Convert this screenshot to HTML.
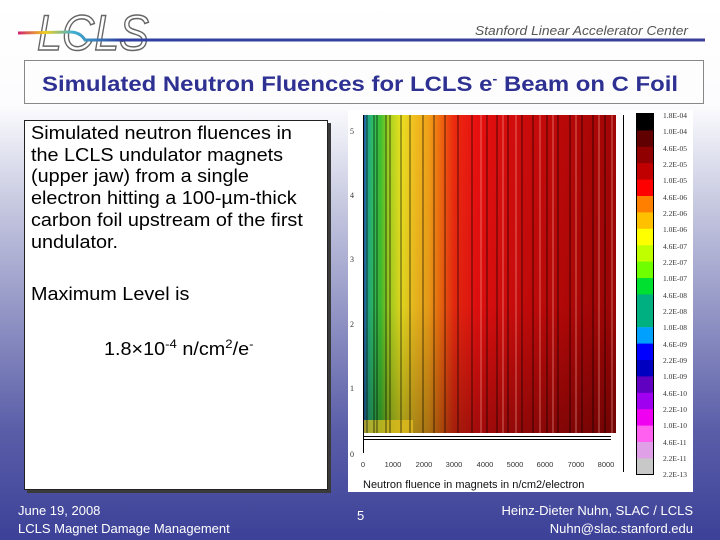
<!DOCTYPE html>
<html><head><meta charset="utf-8"><style>
body{margin:0;width:720px;height:540px;overflow:hidden;font-family:"Liberation Sans",sans-serif;}
#bg{position:absolute;left:0;top:0;width:720px;height:540px;background:linear-gradient(to bottom,#fff 0px,#fcfcfe 105px,#c9cbe2 200px,#8a8dc0 330px,#5a5ea8 430px,#3c4198 540px);}
.abs{position:absolute;}
.sx{transform:scaleX(1.1);transform-origin:0 0;}
</style></head><body>
<div id="bg"></div>
<svg class="abs" style="left:0;top:0" width="720" height="110">
<defs><linearGradient id="ln" x1="0" x2="1"><stop offset="0" stop-color="#d02070"/><stop offset="0.04" stop-color="#f0d020"/><stop offset="0.08" stop-color="#40b0d0"/><stop offset="0.15" stop-color="#3040a0"/><stop offset="1" stop-color="#3a3f98"/></linearGradient></defs>
<text x="37" y="50" font-family="Liberation Sans" font-style="italic" font-size="50" fill="#fff" stroke="#666" stroke-width="1.5" textLength="112" lengthAdjust="spacingAndGlyphs">LCLS</text>
<path d="M18,33 L70,32 Q80,32 85,40 L705,40" stroke="url(#ln)" stroke-width="3" fill="none"/>
<text x="688" y="35" text-anchor="end" font-family="Liberation Sans" font-style="italic" font-size="13" fill="#555" textLength="213" lengthAdjust="spacingAndGlyphs">Stanford Linear Accelerator Center</text>
<rect x="24.5" y="60.5" width="679" height="43" fill="#fdfdfd" stroke="#888" stroke-width="1"/>
<text x="42" y="91" font-family="Liberation Sans" font-weight="bold" font-size="21" fill="#2e3192" textLength="636" lengthAdjust="spacingAndGlyphs">Simulated Neutron Fluences for LCLS e<tspan font-size="13" dy="-8">-</tspan><tspan dy="8"> Beam on C Foil</tspan></text>
</svg>
<div class="abs" style="left:27px;top:123px;width:304px;height:370px;background:#3a3a3a;"></div>
<div class="abs" style="left:24px;top:120px;width:304px;height:370px;background:#fff;border:1px solid #222;box-sizing:border-box;"></div>
<div class="abs sx" style="left:31px;top:123px;width:270px;font-size:18px;line-height:21.7px;color:#000;white-space:nowrap;">Simulated neutron fluences in<br>the LCLS undulator magnets<br>(upper jaw) from a single<br>electron hitting a 100-µm-thick<br>carbon foil upstream of the first<br>undulator.</div>
<div class="abs sx" style="left:31px;top:284px;font-size:18px;color:#000;white-space:nowrap;">Maximum Level is</div>
<div class="abs sx" style="left:104px;top:337px;font-size:18px;color:#000;white-space:nowrap;">1.8×10<sup style="font-size:12px">-4</sup> n/cm<sup style="font-size:12px">2</sup>/e<sup style="font-size:12px">-</sup></div>
<svg class="abs" style="left:0;top:0" width="720" height="540">
<defs><linearGradient id="heat" x1="363" x2="616" gradientUnits="userSpaceOnUse">
<stop offset="0" stop-color="#2030b0"/><stop offset="0.015" stop-color="#20a090"/><stop offset="0.04" stop-color="#30c060"/><stop offset="0.07" stop-color="#40c030"/><stop offset="0.1" stop-color="#a0d020"/><stop offset="0.15" stop-color="#e8e020"/><stop offset="0.2" stop-color="#f0c020"/><stop offset="0.26" stop-color="#f0a018"/><stop offset="0.3" stop-color="#f07010"/><stop offset="0.36" stop-color="#ec2a10"/><stop offset="0.45" stop-color="#e81010"/><stop offset="0.6" stop-color="#d00c0c"/><stop offset="0.8" stop-color="#b80808"/><stop offset="1" stop-color="#a00505"/></linearGradient>
<linearGradient id="dk" x1="0" y1="0" x2="0" y2="1"><stop offset="0" stop-color="#000" stop-opacity="0"/><stop offset="0.6" stop-color="#000" stop-opacity="0.05"/><stop offset="1" stop-color="#000" stop-opacity="0.3"/></linearGradient></defs>
<rect x="348" y="110" width="345" height="382" fill="#fff"/>
<rect x="363" y="115" width="253" height="318" fill="url(#heat)"/>
<rect x="363" y="115" width="253" height="318" fill="url(#dk)"/>
<rect x="363" y="420" width="50" height="13" fill="#e8c020" opacity="0.7"/>
<g stroke="#000" stroke-width="0.8" opacity="0.8">
<line x1="367" y1="115" x2="367" y2="433"/><line x1="374" y1="115" x2="374" y2="433"/><line x1="377" y1="115" x2="377" y2="433"/><line x1="386" y1="115" x2="386" y2="433"/><line x1="390" y1="115" x2="390" y2="433"/><line x1="401" y1="115" x2="401" y2="433"/><line x1="410" y1="115" x2="410" y2="433"/><line x1="423" y1="115" x2="423" y2="433"/><line x1="434" y1="115" x2="434" y2="433"/><line x1="445" y1="115" x2="445" y2="433"/><line x1="458" y1="115" x2="458" y2="433"/><line x1="472" y1="115" x2="472" y2="433"/><line x1="487" y1="115" x2="487" y2="433"/><line x1="497" y1="115" x2="497" y2="433"/><line x1="508" y1="115" x2="508" y2="433"/><line x1="522" y1="115" x2="522" y2="433"/><line x1="533" y1="115" x2="533" y2="433"/><line x1="547" y1="115" x2="547" y2="433"/><line x1="558" y1="115" x2="558" y2="433"/><line x1="570" y1="115" x2="570" y2="433"/><line x1="582" y1="115" x2="582" y2="433"/><line x1="593" y1="115" x2="593" y2="433"/><line x1="605" y1="115" x2="605" y2="433"/>
</g>
<g stroke="#ffb0a0" stroke-width="0.8" opacity="0.7">
<line x1="481" y1="115" x2="481" y2="433"/><line x1="503" y1="115" x2="503" y2="433"/><line x1="516" y1="115" x2="516" y2="433"/><line x1="540" y1="115" x2="540" y2="433"/><line x1="553" y1="115" x2="553" y2="433"/><line x1="576" y1="115" x2="576" y2="433"/><line x1="599" y1="115" x2="599" y2="433"/><line x1="612" y1="115" x2="612" y2="433"/>
</g>
<g stroke="#000" stroke-width="1" fill="none">
<line x1="363.5" y1="115" x2="363.5" y2="453"/><line x1="363" y1="436.5" x2="611" y2="436.5"/><line x1="363" y1="439.5" x2="611" y2="439.5"/><line x1="623.5" y1="115" x2="623.5" y2="472"/>
</g>
<g font-family="Liberation Serif" font-size="8" fill="#333">
<text x="350" y="134">5</text><text x="350" y="198">4</text><text x="350" y="262">3</text><text x="350" y="327">2</text><text x="350" y="391">1</text><text x="350" y="457">0</text>
<g text-anchor="middle" font-family="Liberation Sans" font-size="7.5"><text x="363" y="467">0</text><text x="393" y="467">1000</text><text x="424" y="467">2000</text><text x="454" y="467">3000</text><text x="485" y="467">4000</text><text x="515" y="467">5000</text><text x="545" y="467">6000</text><text x="576" y="467">7000</text><text x="606" y="467">8000</text></g>
<text x="363" y="488" font-family="Liberation Sans" font-size="11" fill="#111">Neutron fluence in magnets in n/cm2/electron</text>
</g>
<g>
<rect x="637" y="114" width="16" height="17" fill="#000"/><rect x="637" y="130.4" width="16" height="17" fill="#600000"/><rect x="637" y="146.8" width="16" height="17" fill="#900000"/><rect x="637" y="163.2" width="16" height="17" fill="#c00000"/><rect x="637" y="179.6" width="16" height="17" fill="#ff0000"/><rect x="637" y="196" width="16" height="17" fill="#ff7f00"/><rect x="637" y="212.4" width="16" height="17" fill="#ffc000"/><rect x="637" y="228.8" width="16" height="17" fill="#ffff00"/><rect x="637" y="245.2" width="16" height="17" fill="#c0ff00"/><rect x="637" y="261.6" width="16" height="17" fill="#70ff00"/><rect x="637" y="278" width="16" height="17" fill="#00e030"/><rect x="637" y="294.4" width="16" height="33" fill="#00b080"/><rect x="637" y="327.2" width="16" height="17" fill="#00a0ff"/><rect x="637" y="343.6" width="16" height="17" fill="#0000ff"/><rect x="637" y="360" width="16" height="17" fill="#0000c0"/><rect x="637" y="376.4" width="16" height="17" fill="#6000c0"/><rect x="637" y="392.8" width="16" height="17" fill="#a000f0"/><rect x="637" y="409.2" width="16" height="17" fill="#f000f0"/><rect x="637" y="425.6" width="16" height="17" fill="#ff60f0"/><rect x="637" y="442" width="16" height="17" fill="#e0a0e8"/><rect x="637" y="458.4" width="16" height="16" fill="#c8c8c8"/>
<rect x="636.5" y="113.5" width="17" height="361" fill="none" stroke="#000"/>
</g>
<g font-family="Liberation Serif" font-size="7.5" fill="#333">
<text x="663" y="118">1.8E-04</text><text x="663" y="134">1.0E-04</text><text x="663" y="151">4.6E-05</text><text x="663" y="167">2.2E-05</text><text x="663" y="183">1.0E-05</text><text x="663" y="200">4.6E-06</text><text x="663" y="216">2.2E-06</text><text x="663" y="232">1.0E-06</text><text x="663" y="249">4.6E-07</text><text x="663" y="265">2.2E-07</text><text x="663" y="281">1.0E-07</text><text x="663" y="298">4.6E-08</text><text x="663" y="314">2.2E-08</text><text x="663" y="330">1.0E-08</text><text x="663" y="347">4.6E-09</text><text x="663" y="363">2.2E-09</text><text x="663" y="379">1.0E-09</text><text x="663" y="396">4.6E-10</text><text x="663" y="412">2.2E-10</text><text x="663" y="428">1.0E-10</text><text x="663" y="445">4.6E-11</text><text x="663" y="461">2.2E-11</text><text x="663" y="477">2.2E-13</text>
</g>
<g font-family="Liberation Sans" font-size="13" fill="#fff">
<text x="18" y="515">June 19, 2008</text><text x="18" y="533">LCLS Magnet Damage Management</text>
<text x="357" y="520">5</text>
<text x="693" y="515" text-anchor="end">Heinz-Dieter Nuhn, SLAC / LCLS</text><text x="693" y="533" text-anchor="end">Nuhn@slac.stanford.edu</text>
</g>
</svg>
</body></html>
